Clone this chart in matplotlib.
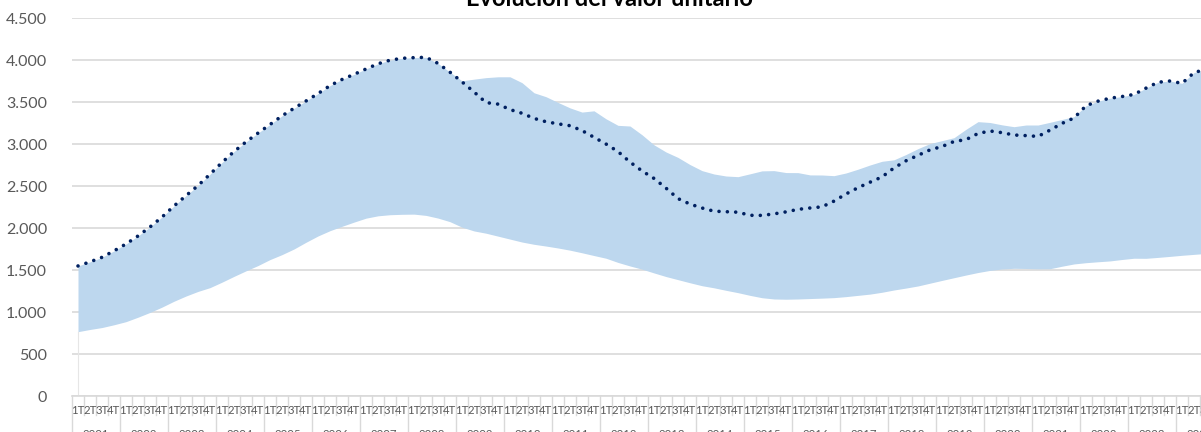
import matplotlib
matplotlib.use("Agg")
import matplotlib.pyplot as plt
from matplotlib.ticker import FuncFormatter, MultipleLocator

# ---------------- data ----------------
years = list(range(2001, 2025))
quarters = ["1T", "2T", "3T", "4T"]
n_quarters_last_year = 3

# dotted line (central value)
valor = [1548, 1597, 1651, 1728, 1810, 1905, 2012, 2130, 2262, 2385,
         2505, 2640, 2780, 2910, 3025, 3130, 3232, 3335, 3425, 3512,
         3600, 3695, 3768, 3829, 3893, 3955, 3998, 4020, 4028, 4032,
         3960, 3855, 3740, 3620, 3493, 3475, 3410, 3366, 3305, 3265,
         3240, 3218, 3160, 3080, 3000, 2910, 2785, 2680, 2590, 2475,
         2350, 2285, 2238, 2200, 2194, 2188, 2151, 2150, 2168, 2192,
         2222, 2238, 2252, 2320, 2405, 2480, 2545, 2608, 2715, 2800,
         2865, 2930, 2970, 3030, 3052, 3125, 3155, 3135, 3107, 3100,
         3090, 3165, 3245, 3310, 3455, 3510, 3545, 3565, 3590, 3665,
         3735, 3750, 3722, 3850, 3890]

# band upper edge
maximo = [1548, 1597, 1651, 1728, 1810, 1905, 2012, 2130, 2262, 2385,
          2505, 2640, 2780, 2910, 3025, 3130, 3232, 3335, 3425, 3512,
          3600, 3695, 3768, 3829, 3893, 3955, 3998, 4020, 4028, 4032,
          3960, 3855, 3752, 3772, 3790, 3800, 3800, 3730, 3610, 3563,
          3495, 3430, 3380, 3395, 3300, 3222, 3214, 3110, 2990, 2905,
          2840, 2755, 2683, 2643, 2619, 2611, 2645, 2680, 2683, 2660,
          2659, 2632, 2631, 2623, 2655, 2700, 2750, 2794, 2812, 2875,
          2945, 3005, 3040, 3075, 3175, 3266, 3256, 3228, 3206, 3226,
          3226, 3258, 3292, 3325, 3455, 3510, 3545, 3565, 3590, 3665,
          3735, 3750, 3722, 3850, 3890]

# band lower edge
minimo = [766, 792, 815, 848, 885, 938, 995, 1058, 1128, 1190,
          1245, 1290, 1355, 1424, 1490, 1553, 1624, 1683, 1750, 1830,
          1905, 1968, 2020, 2070, 2117, 2145, 2158, 2163, 2165, 2150,
          2118, 2075, 2010, 1965, 1938, 1903, 1868, 1833, 1806, 1785,
          1762, 1736, 1705, 1672, 1640, 1590, 1548, 1510, 1465, 1422,
          1385, 1348, 1313, 1288, 1258, 1230, 1198, 1170, 1155, 1152,
          1155, 1160, 1165, 1171, 1183, 1198, 1213, 1235, 1262, 1285,
          1310, 1343, 1376, 1408, 1440, 1470, 1495, 1512, 1520, 1518,
          1514, 1515, 1545, 1572, 1587, 1598, 1608, 1625, 1640, 1639,
          1650, 1662, 1675, 1686, 1697]

title = "Evolución del valor unitario"

# ---------------- figure ----------------
W, H = 1201, 432
fig = plt.figure(figsize=(W / 100, H / 100), dpi=100)
plt.rcParams["font.family"] = ["Lato", "DejaVu Sans"]

n = len(valor)
x = list(range(n))

left_px, right_px = 72, 72 + 12 * n
top_px, bottom_px = 18, 396
ax = fig.add_axes([left_px / W, (H - bottom_px) / H,
                   (right_px - left_px) / W, (bottom_px - top_px) / H])

ax.set_xlim(-0.5, n - 0.5)
ax.set_ylim(0, 4500)

grid_c = "#D9D9D9"
txt_c = "#595959"

ax.yaxis.set_major_locator(MultipleLocator(500))
ax.yaxis.set_major_formatter(FuncFormatter(lambda v, p: f"{int(v):,}".replace(",", ".")))
ax.grid(axis="y", color=grid_c, lw=1.2)
ax.set_axisbelow(True)
ax.tick_params(axis="y", length=0, pad=18, labelsize=11.5, labelcolor=txt_c)
ax.tick_params(axis="x", length=0, labelbottom=False)
for s in ["top", "right", "left"]:
    ax.spines[s].set_visible(False)
ax.spines["bottom"].set_color(grid_c)
ax.spines["bottom"].set_linewidth(1.2)

ax.fill_between(x, minimo, maximo, color="#BDD7EE", lw=0, zorder=2)
ax.plot([0, 0], [0, minimo[0]], color="#E6E6E6", lw=0.8, zorder=2)
ax.plot(x, valor, color="#002060", lw=2.6, linestyle=(0, (0.01, 2.3)),
        dash_capstyle="round", zorder=3)

# category axis (quarters + years)
tr = ax.get_xaxis_transform()
ah = bottom_px - top_px
def ay(py):
    return -(py - bottom_px) / ah

i = 0
for yi, yr in enumerate(years):
    nq = 4 if yi < len(years) - 1 else n_quarters_last_year
    start = i - 0.5
    ax.plot([start, start], [0, ay(445)], transform=tr, color=grid_c,
            lw=1.0, clip_on=False)
    for q in range(nq):
        if q > 0:
            ax.plot([i - 0.5, i - 0.5], [0, ay(415)], transform=tr,
                    color=grid_c, lw=1.0, clip_on=False)
        ax.text(i, ay(410), quarters[q], transform=tr, ha="center",
                va="center", fontsize=8.2, color=txt_c, clip_on=False)
        i += 1
    ax.text(start + 2.0, ay(434), str(yr), transform=tr, ha="center",
            va="center", fontsize=8.2, color=txt_c, clip_on=False)

fig.text(609 / W, 1 - 6 / H, title, ha="center", va="baseline",
         fontsize=17, fontweight="bold", color="#000000")

fig.savefig("out.png", dpi=100)
